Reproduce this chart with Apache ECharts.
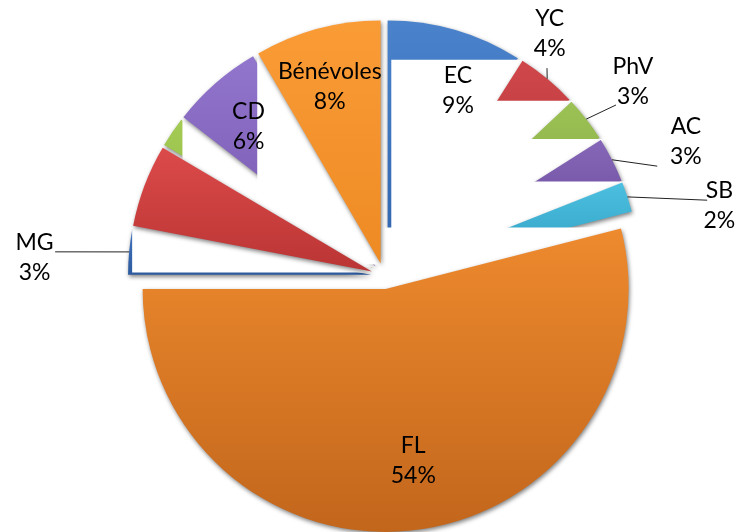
<!DOCTYPE html>
<html>
<head>
<meta charset="utf-8">
<script src="https://cdn.jsdelivr.net/npm/echarts@6/dist/echarts.min.js"></script>
<style>
  html, body { margin: 0; padding: 0; background: #fff; }
  #pieChart { width: 743px; height: 532px; }
</style>
</head>
<body>
<div id="pieChart"></div>
<script>
// slice data, clockwise from 12 o'clock (two slices carry no label)
const categories = ['EC', 'YC', 'PhV', 'AC', 'SB', 'FL', 'MG', '', '', 'CD', 'Bénévoles'];
const values = [9, 4, 3, 3, 2, 54, 3, 5.5, 2, 6.1, 8.4];

// every slice paints a white backing box then its fill, in data order;
// a deferred slice paints its fill after all the others
const deferFill = [false, false, false, false, false, false, false, true, false, false, false];

const colors = [
    ['#4A83CC', '#2F63AE'], ['#D0474A', '#A82E30'], ['#9CC256', '#7FA23A'],
    ['#8566B8', '#634590'], ['#4CC0E0', '#2E9BBE'], ['#EE8A2E', '#C2661C'],
    ['#3F73BF', '#2D5A9E'], ['#DC4A4A', '#BA3534'], ['#A4CC55', '#8AB13D'],
    ['#9275CC', '#7556AE'], ['#FA9C36', '#EE8A24']
];

// label anchor [clock angle, radius fraction] and leader line end (null = none)
const labelAt = [[21.8, 0.82], [34.3, 1.21], [52, 1.30], [66, 1.36], [78.2, 1.41], [171, 0.77],
                 [273, 1.44], null, null, [317.8, 0.83], [344, 0.81]];
const leaderTo = [null, [38.1, 1.087], [53.6, 1.186], [68.1, 1.212], [76.8, 1.366], null,
                  [274.2, 1.357], null, null, null, null];

const CX = 384, CY = 276, R = 243, EXPLODE = 13;
const total = values.reduce((a, b) => a + b, 0);
const rad = d => d * Math.PI / 180;

function sliceGeom(i) {
    let start = 0;
    for (let k = 0; k < i; k++) start += values[k];
    const a0 = start / total * 360;
    const a1 = (start + values[i]) / total * 360;
    const mid = rad((a0 + a1) / 2);
    const ax = CX + EXPLODE * Math.sin(mid);
    const ay = CY - EXPLODE * Math.cos(mid);
    const onArc = a => [ax + R * Math.sin(rad(a)), ay - R * Math.cos(rad(a))];
    const pts = [[ax, ay], onArc(a0), onArc(a1)];
    [90, 180, 270].forEach(c => { if (c > a0 && c < a1) pts.push(onArc(c)); });
    const xs = pts.map(p => p[0]), ys = pts.map(p => p[1]);
    return {
        a0, a1, ax, ay,
        box: [Math.min(...xs), Math.min(...ys), Math.max(...xs), Math.max(...ys)],
        rim: onArc((a0 + a1) / 2)
    };
}

function polar(angle, frac) {
    return [CX + frac * R * Math.sin(rad(angle)), CY - frac * R * Math.cos(rad(angle))];
}

const chartDom = document.getElementById('pieChart');
const myChart = echarts.init(chartDom);

const option = {
    animation: false,
    series: [
        {
            type: 'custom',
            coordinateSystem: 'none',
            data: categories.map((c, i) => [i]),
            renderItem: function (params, api) {
                const i = api.value(0);
                const g = sliceGeom(i);
                return {
                    type: 'group',
                    children: [
                        {
                            type: 'rect',
                            z2: i * 2,
                            shape: { x: g.box[0] - 1, y: g.box[1] - 1, width: g.box[2] - g.box[0] + 2, height: g.box[3] - g.box[1] + 2 },
                            style: { fill: '#ffffff' }
                        },
                        {
                            type: 'sector',
                            z2: deferFill[i] ? 100 : i * 2 + 1,
                            shape: {
                                cx: g.ax, cy: g.ay, r0: 0, r: R,
                                startAngle: rad(g.a0 - 90), endAngle: rad(g.a1 - 90), clockwise: true
                            },
                            style: {
                                fill: new echarts.graphic.LinearGradient(0, 0, 0, 1, [
                                    { offset: 0, color: colors[i][0] },
                                    { offset: 1, color: colors[i][1] }
                                ]),
                                shadowBlur: 4,
                                shadowColor: 'rgba(0,0,0,0.5)',
                                shadowOffsetX: 1,
                                shadowOffsetY: 2
                            }
                        }
                    ]
                };
            }
        },
        {
            type: 'custom',
            coordinateSystem: 'none',
            z: 10,
            data: categories.map((c, i) => [i]),
            renderItem: function (params, api) {
                const i = api.value(0);
                if (!labelAt[i] || !categories[i]) return;
                const g = sliceGeom(i);
                const pos = polar(labelAt[i][0], labelAt[i][1]);
                const children = [{
                    type: 'text',
                    x: pos[0], y: pos[1],
                    style: {
                        text: categories[i] + '\n' + Math.round(values[i] / total * 100) + '%',
                        align: 'center',
                        verticalAlign: 'middle',
                        fontFamily: 'Lato',
                        fontSize: 23,
                        lineHeight: 30,
                        fill: '#000'
                    }
                }];
                if (leaderTo[i]) {
                    const end = polar(leaderTo[i][0], leaderTo[i][1]);
                    children.push({
                        type: 'polyline',
                        shape: { points: [g.rim, end] },
                        style: { stroke: '#222', lineWidth: 1, fill: null }
                    });
                }
                return { type: 'group', children: children };
            }
        }
    ]
};

myChart.setOption(option);
</script>
</body>
</html>
